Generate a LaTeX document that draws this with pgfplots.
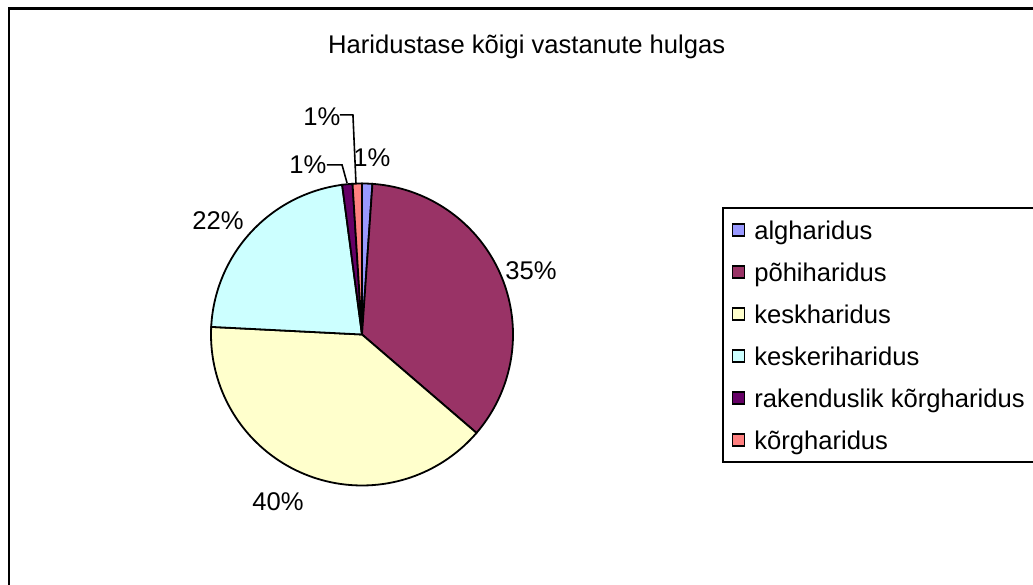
\documentclass[border=0pt]{standalone}
\usepackage{pgfplots}
\pgfplotsset{compat=1.18}
\usepackage{fontspec}
\setmainfont{Liberation Sans}
\definecolor{cA}{HTML}{9999FF}
\definecolor{cB}{HTML}{993366}
\definecolor{cC}{HTML}{FFFFCC}
\definecolor{cD}{HTML}{CCFFFF}
\definecolor{cE}{HTML}{660066}
\definecolor{cF}{HTML}{FF8080}
% shares (percent)
\def\vA{1.1}  % algharidus
\def\vB{35.2} % pohiharidus
\def\vC{39.5} % keskharidus
\def\vD{22.1} % keskeriharidus
\def\vE{1.1}  % rakenduslik korgharidus
\def\vF{1.0}  % korgharidus
\newcommand\fs{\fontsize{25.6bp}{30bp}\selectfont}
\begin{document}
\begin{tikzpicture}
\path[use as bounding box] (0,0) rectangle (1033bp,585bp);
\pgfmathsetmacro\sA{90}
\pgfmathsetmacro\eA{\sA-3.6*\vA}
\pgfmathsetmacro\eB{\eA-3.6*\vB}
\pgfmathsetmacro\eC{\eB-3.6*\vC}
\pgfmathsetmacro\eD{\eC-3.6*\vD}
\pgfmathsetmacro\eE{\eD-3.6*\vE}
\pgfmathsetmacro\eF{\eE-3.6*\vF}
\draw[line width=2.4bp] (8.7bp,576.3bp) rectangle (1200bp,-100bp);
\node[font=\fs, anchor=base] at (526.7bp,531.7bp) {Haridustase kõigi vastanute hulgas};
\begin{axis}[
  at={(362bp,250.5bp)}, anchor=origin,
  width=302bp, height=302bp, scale only axis,
  xmin=-1, xmax=1, ymin=-1, ymax=1,
  hide axis, clip=false,
  legend style={at={(1.692,0.922)}, anchor=north west, draw=black, line width=1.8bp,
    font=\fs, fill=white, row sep=14bp, inner xsep=9bp, inner ysep=8bp,
    nodes={inner sep=1bp, text height=23bp, text depth=3bp},
    /tikz/every odd column/.append style={column sep=8bp}},
  legend cell align=left,
  legend image code/.code={\draw[#1, line width=1.4bp, draw=black] (0bp,-6bp) rectangle (12bp,6bp);},
]
\addplot[fill=cA, draw=black, line width=1.8bp, domain=\eA:\sA, samples=20, variable=\t] ({cos(\t)},{sin(\t)}) -- (axis cs:0,0) -- cycle;
\addlegendentry{algharidus}
\addplot[fill=cB, draw=black, line width=1.8bp, domain=\eB:\eA, samples=80, variable=\t] ({cos(\t)},{sin(\t)}) -- (axis cs:0,0) -- cycle;
\addlegendentry{põhiharidus}
\addplot[fill=cC, draw=black, line width=1.8bp, domain=\eC:\eB, samples=80, variable=\t] ({cos(\t)},{sin(\t)}) -- (axis cs:0,0) -- cycle;
\addlegendentry{keskharidus}
\addplot[fill=cD, draw=black, line width=1.8bp, domain=\eD:\eC, samples=60, variable=\t] ({cos(\t)},{sin(\t)}) -- (axis cs:0,0) -- cycle;
\addlegendentry{keskeriharidus}
\addplot[fill=cE, draw=black, line width=1.8bp, domain=\eE:\eD, samples=20, variable=\t] ({cos(\t)},{sin(\t)}) -- (axis cs:0,0) -- cycle;
\addlegendentry{rakenduslik kõrgharidus}
\addplot[fill=cF, draw=black, line width=1.8bp, domain=\eF:\eE, samples=20, variable=\t] ({cos(\t)},{sin(\t)}) -- (axis cs:0,0) -- cycle;
\addlegendentry{kõrgharidus}
% leader lines
\draw[line width=1.6bp] (axis cs:-0.146,1.454) -- (axis cs:-0.060,1.454) -- (axis cs:-0.040,1.003);
\draw[line width=1.6bp] (axis cs:-0.232,1.123) -- (axis cs:-0.132,1.123) -- (axis cs:-0.099,1.003);
% labels
\node[font=\fs] at (axis cs:0.066,1.169) {1\%};
\node[font=\fs] at (axis cs:1.119,0.421) {35\%};
\node[font=\fs] at (axis cs:-0.556,-1.109) {40\%};
\node[font=\fs] at (axis cs:-0.954,0.752) {22\%};
\node[font=\fs] at (axis cs:-0.358,1.123) {1\%};
\node[font=\fs] at (axis cs:-0.265,1.444) {1\%};
\end{axis}
\end{tikzpicture}
\end{document}
